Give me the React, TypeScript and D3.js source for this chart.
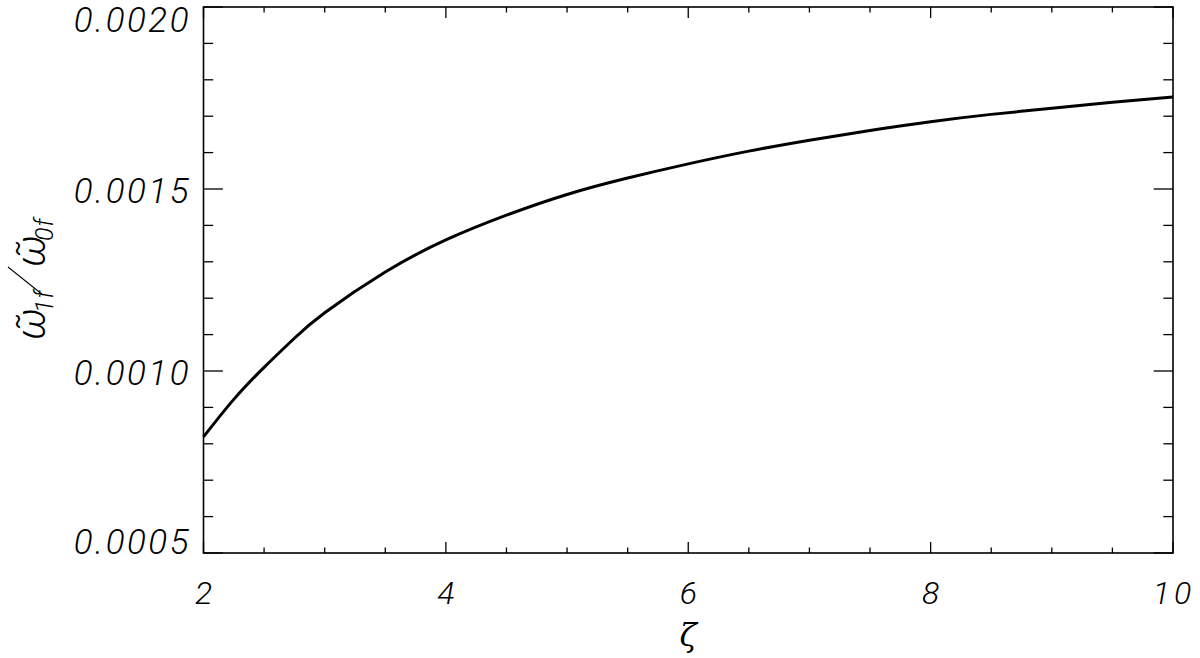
import React from "react"
import * as d3 from "d3"

// curve
const zeta = [2.0, 2.25, 2.5, 2.75, 3.0, 3.5, 4.0, 4.5, 5.0, 5.5, 6.0, 6.5, 7.0, 7.5, 8.0, 8.5, 9.0, 9.5, 10.0]
const ratio = [0.000819, 0.000922, 0.001010, 0.001090, 0.001160, 0.001272, 0.00136, 0.001428, 0.001485, 0.00153, 0.001569, 0.001604, 0.001634, 0.001661, 0.001685, 0.001705, 0.001722, 0.001738, 0.001753]

const xMajor = [2, 4, 6, 8, 10]
const yMajor = [0.0005, 0.001, 0.0015, 0.002]

const W = 1200
const H = 658
const left = 203.5
const right = 1173
const top = 7
const bottom = 553

const labelFont = "Roboto, 'DejaVu Sans', sans-serif"

export default function App() {
  const x = d3.scaleLinear().domain([2, 10]).range([left, right])
  const y = d3.scaleLinear().domain([0.0005, 0.002]).range([bottom, top])

  const xMinor = d3.range(2, 10.001, 0.5).filter(v => !xMajor.includes(v))
  const yMinor = d3.range(5, 20.5, 1).map(v => v / 10000).filter(v => !yMajor.some(m => Math.abs(m - v) < 1e-9))

  const line = d3.line<number>()
    .x((d, i) => x(zeta[i]))
    .y(d => y(d))
    .curve(d3.curveNatural)

  const xMajLen = 11
  const xMinLen = 5.5
  const yMajLen = 19.4
  const yMinLen = 9.7

  const fmt = d3.format(".4f")

  return (
    <svg width={W} height={H} style={{ position: "absolute", left: 0, top: 0, background: "#fff" }}>
      <rect x={left} y={top} width={right - left} height={bottom - top} fill="none" stroke="#000" strokeWidth={1.6} />

      {/* x ticks, bottom and top */}
      {xMajor.map(v => (
        <g key={"xm" + v} stroke="#000" strokeWidth={1.3}>
          <line x1={x(v)} x2={x(v)} y1={bottom} y2={bottom - xMajLen} />
          <line x1={x(v)} x2={x(v)} y1={top} y2={top + xMajLen} />
        </g>
      ))}
      {xMinor.map(v => (
        <g key={"xn" + v} stroke="#000" strokeWidth={1.3}>
          <line x1={x(v)} x2={x(v)} y1={bottom} y2={bottom - xMinLen} />
          <line x1={x(v)} x2={x(v)} y1={top} y2={top + xMinLen} />
        </g>
      ))}

      {/* y ticks, left and right */}
      {yMajor.map(v => (
        <g key={"ym" + v} stroke="#000" strokeWidth={1.3}>
          <line x1={left} x2={left + yMajLen} y1={y(v)} y2={y(v)} />
          <line x1={right} x2={right - yMajLen} y1={y(v)} y2={y(v)} />
        </g>
      ))}
      {yMinor.map(v => (
        <g key={"yn" + v} stroke="#000" strokeWidth={1.3}>
          <line x1={left} x2={left + yMinLen} y1={y(v)} y2={y(v)} />
          <line x1={right} x2={right - yMinLen} y1={y(v)} y2={y(v)} />
        </g>
      ))}

      {/* tick labels */}
      {yMajor.map(v => {
        const cy = Math.max(19.5, Math.min(542, y(v) + 2))
        return (
          <text key={"yl" + v} x={191} y={cy + 12} textAnchor="end"
            fontFamily={labelFont} fontStyle="italic" fontWeight={300} fontSize={35}
            letterSpacing={2.5} fill="#000">
            {fmt(v)}
          </text>
        )
      })}
      {xMajor.map(v => (
        <text key={"xl" + v} x={x(v) + (v >= 10 ? 1 : 0)} y={604} textAnchor="middle"
          fontFamily={labelFont} fontStyle="italic" fontWeight={300} fontSize={32}
          letterSpacing={v >= 10 ? 4 : 0} fill="#000">
          {v}
        </text>
      ))}

      {/* x title */}
      <text x={x(6)} y={646} textAnchor="middle" fontFamily="'DejaVu Serif', serif" fontStyle="italic"
        fontSize={32} fill="#000">ζ</text>

      {/* y title: ω̃1f / ω̃0f */}
      <g transform="translate(45,340) rotate(-90)" fill="#000" fontFamily={labelFont} fontStyle="italic" fontWeight={300}>
        <text x={0} y={0} fontSize={40}>{"ω\u0303"}</text>
        <text x={27} y={8} fontSize={25} letterSpacing={1}>1f</text>
        <line x1={45} y1={-2} x2={73} y2={-37} stroke="#000" strokeWidth={1.1} />
        <text x={73} y={0} fontSize={40}>{"ω\u0303"}</text>
        <text x={99} y={8} fontSize={25} letterSpacing={1}>0f</text>
      </g>

      <path d={line(ratio) ?? ""} fill="none" stroke="#000" strokeWidth={3} />
    </svg>
  )
}
